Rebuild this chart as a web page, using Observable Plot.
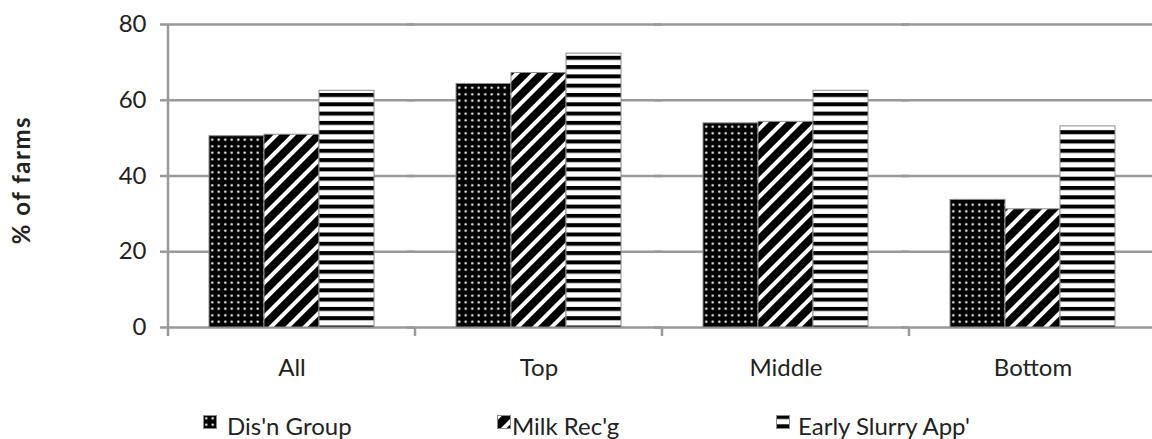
<!DOCTYPE html>
<html>
<head>
<meta charset="utf-8">
<script src="https://cdn.jsdelivr.net/npm/d3@7"></script>
<script src="https://cdn.jsdelivr.net/npm/@observablehq/plot@0.6"></script>
<style>
  html, body { margin: 0; padding: 0; background: #fff; }
  #wrap { position: relative; width: 1152px; height: 439px; overflow: hidden; font-family: Lato, "Open Sans", sans-serif; }
  #ylabel { position: absolute; left: 20px; top: 180px; transform: translate(-50%, -50%) rotate(-90deg); font-size: 24px; font-weight: bold; letter-spacing: 1.5px; color: #222; white-space: nowrap; }
  #legend { position: absolute; top: 414px; left: 0; width: 1152px; height: 25px; font-size: 24px; line-height: 24px; color: #222; }
  .sw { position: absolute; top: 1px; }
  .lt { position: absolute; top: 0; white-space: nowrap; }
</style>
</head>
<body>
<svg width="0" height="0" style="position:absolute">
  <defs>
    <pattern id="pat-dots" width="6.5" height="6.5" patternUnits="userSpaceOnUse">
      <rect width="6.5" height="6.5" fill="#000"/>
      <circle cx="3.25" cy="3.25" r="1.2" fill="#fff"/>
    </pattern>
    <pattern id="pat-diag" width="12" height="12" patternUnits="userSpaceOnUse" patternTransform="rotate(45)">
      <rect width="12" height="12" fill="#000"/>
      <rect x="0" width="4" height="12" fill="#fff"/>
    </pattern>
    <pattern id="pat-horiz" width="10" height="9.3" patternUnits="userSpaceOnUse">
      <rect width="10" height="9.3" fill="#fff"/>
      <rect y="0" width="10" height="4" fill="#000"/>
    </pattern>
  </defs>
</svg>
<div id="wrap">
  <div id="chart"></div>
  <div id="ylabel">% of farms</div>
  <div id="legend"></div>
</div>
<script>
const categories = ["All", "Top", "Middle", "Bottom"];
const series = ["Dis'n Group", "Milk Rec'g", "Early Slurry App'"];
const disnGroup = [50.5, 64.3, 53.9, 33.7];
const milkRecg = [50.9, 67.2, 54.3, 31.2];
const earlySlurryApp = [62.5, 72.3, 62.5, 53.1];
const yTicks = [0, 20, 40, 60, 80];
const patterns = ["url(#pat-dots)", "url(#pat-diag)", "url(#pat-horiz)"];
const legendSwatchLeft = [203, 497, 776];
const legendTextLeft = [227, 512, 798];

const valuesBySeries = [disnGroup, milkRecg, earlySlurryApp];
const data = categories.flatMap((c, i) =>
  series.map((s, j) => ({category: c, series: s, value: valuesBySeries[j][i]}))
);

const plot = Plot.plot({
  width: 1152,
  height: 400,
  marginLeft: 167,
  marginRight: -5,
  marginTop: 24,
  marginBottom: 73,
  style: {fontFamily: "Lato, 'Open Sans', sans-serif", fontSize: "24px", color: "#222", background: "#fff"},
  fx: {domain: categories, paddingInner: 0, paddingOuter: 0, label: null, axis: "bottom", tickSize: 0, tickPadding: 31},
  x: {domain: series, paddingInner: 0, paddingOuter: 0.72, axis: null},
  y: {domain: [0, 80], ticks: yTicks, label: null, tickSize: 0, tickPadding: 22},
  color: {domain: series, range: patterns},
  marks: [
    Plot.ruleY(yTicks, {stroke: "#999", strokeWidth: 2.5, insetLeft: -8}),
    Plot.barY(data, {fx: "category", x: "series", y: "value", fill: "series", stroke: "#8c8c8c", strokeWidth: 1})
  ]
});
document.getElementById("chart").appendChild(plot);

// y-axis line and category boundary tick marks from the library's scales
const fxs = plot.scale("fx"), ys = plot.scale("y");
const svg = d3.select(plot);
const g = svg.append("g").attr("stroke", "#999").attr("stroke-width", 2.5);
const x0 = fxs.apply(categories[0]);
g.append("line").attr("x1", x0).attr("x2", x0).attr("y1", ys.apply(80)).attr("y2", ys.apply(0) + 9);
categories.slice(1).forEach(c => {
  const xx = fxs.apply(c);
  g.append("line").attr("x1", xx).attr("x2", xx).attr("y1", ys.apply(0)).attr("y2", ys.apply(0) + 9);
});

// legend
const legend = d3.select("#legend");
series.forEach((s, i) => {
  const sw = legend.append("svg").attr("class", "sw").attr("width", 14).attr("height", 14)
    .style("left", legendSwatchLeft[i] + "px");
  sw.append("rect").attr("x", 0.5).attr("y", 0.5).attr("width", 13).attr("height", 13)
    .attr("fill", patterns[i]).attr("stroke", "#8c8c8c").attr("stroke-width", 1);
  legend.append("div").attr("class", "lt").style("left", legendTextLeft[i] + "px").text(s);
});
</script>
</body>
</html>
